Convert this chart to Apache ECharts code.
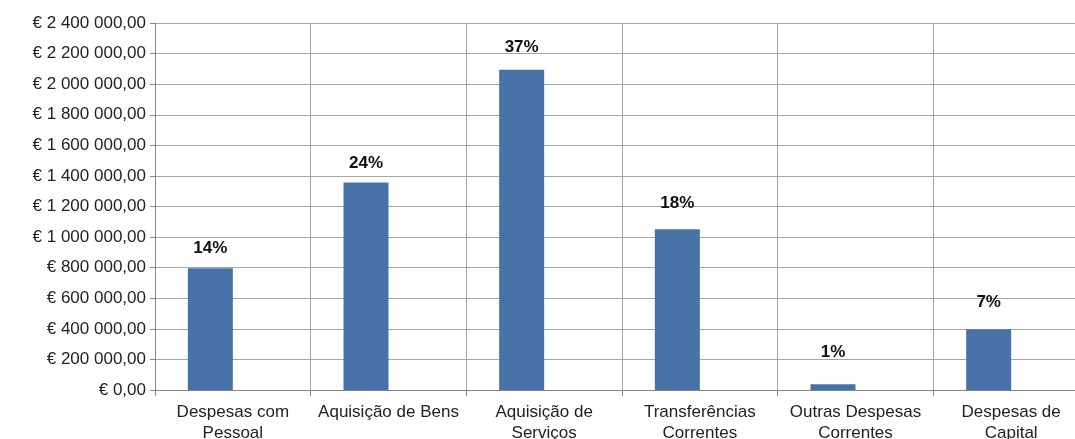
<!DOCTYPE html>
<html>
<head>
<meta charset="utf-8">
<script src="https://cdn.jsdelivr.net/npm/echarts@6/dist/echarts.min.js"></script>
<style>
  html, body { margin: 0; padding: 0; background: #fff; overflow: hidden; }
  #wrap { width: 1075px; height: 439px; overflow: hidden; }
  /* a área do gráfico continua para além da margem direita, como no original */
  #chart { width: 1089px; height: 439px; }
</style>
</head>
<body>
<div id="wrap"><div id="chart"></div></div>
<script>
// categorias e valores
const categories = [
  'Despesas com\nPessoal',
  'Aquisição de Bens',
  'Aquisição de\nServiços',
  'Transferências\nCorrentes',
  'Outras Despesas\nCorrentes',
  'Despesas de\nCapital'
]
const values = [797000, 1357000, 2095000, 1052000, 38000, 398000]
const percentLabels = ['14%', '24%', '37%', '18%', '1%', '7%']
const labelGaps = [11, 11, 14, 17, 23, 18]
const yTicks = [0, 200000, 400000, 600000, 800000, 1000000, 1200000, 1400000, 1600000, 1800000, 2000000, 2200000, 2400000]

const font = 'Liberation Sans, Arial, sans-serif'

// formato € 1 200 000,00
function euro(v) {
  const s = Math.round(v).toString().replace(/\B(?=(\d{3})+(?!\d))/g, ' ')
  return '€ ' + s + ',00'
}

const chart = echarts.init(document.getElementById('chart'))

chart.setOption({
  animation: false,
  grid: { left: 155, right: 0, top: 23, bottom: 49, containLabel: false, outerBoundsMode: 'none' },
  xAxis: {
    type: 'category',
    data: categories,
    boundaryGap: true,
    axisLine: { lineStyle: { color: '#868686' } },
    axisTick: { show: true, interval: 0, length: 6, lineStyle: { color: '#868686' } },
    axisLabel: {
      interval: 0,
      color: '#222',
      fontFamily: font,
      fontSize: 17,
      lineHeight: 21,
      margin: 12
    },
    splitLine: { show: true, interval: 0, lineStyle: { color: '#a6a6a6', width: 1 } }
  },
  yAxis: {
    type: 'value',
    min: yTicks[0],
    max: yTicks[yTicks.length - 1],
    interval: 200000,
    axisLine: { show: true, lineStyle: { color: '#868686' } },
    axisTick: { show: true, length: 5, lineStyle: { color: '#868686' } },
    axisLabel: {
      color: '#222',
      fontFamily: font,
      fontSize: 17,
      margin: 9,
      formatter: v => euro(v)
    },
    splitLine: { lineStyle: { color: '#a6a6a6', width: 1 } }
  },
  series: [
    {
      type: 'bar',
      data: values.map((v, i) => ({
        value: v,
        label: { distance: labelGaps[i] }
      })),
      barWidth: 45,
      barGap: '0%',
      itemStyle: { color: '#4672a7' },
      label: {
        show: true,
        position: 'top',
        color: '#111',
        fontFamily: font,
        fontSize: 17,
        fontWeight: 'bold',
        formatter: p => percentLabels[p.dataIndex]
      }
    },
    {
      // série vazia (ocupa o segundo lugar em cada categoria)
      type: 'bar',
      data: values.map(() => null),
      barWidth: 45,
      barGap: '0%'
    }
  ]
})
</script>
</body>
</html>
